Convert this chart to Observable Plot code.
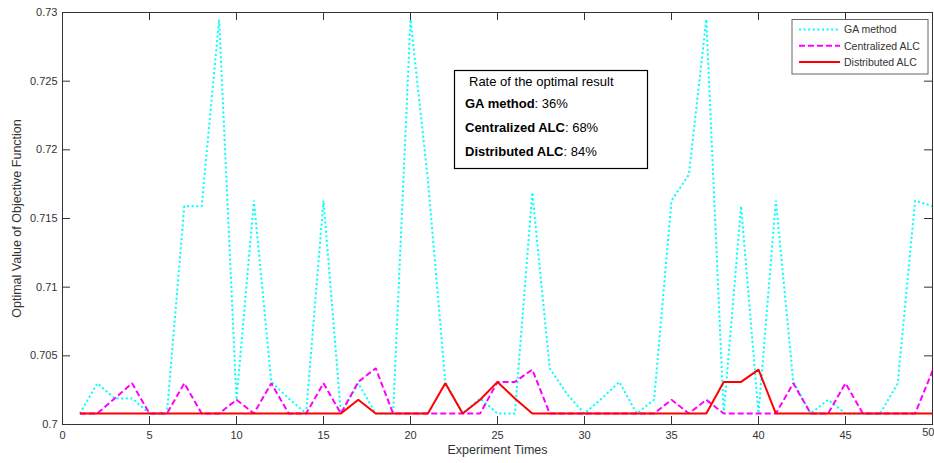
<!DOCTYPE html>
<html>
<head>
<meta charset="utf-8">
<script src="https://cdn.jsdelivr.net/npm/d3@7"></script>
<script src="https://cdn.jsdelivr.net/npm/@observablehq/plot@0.6"></script>
<style>
  html, body { margin: 0; padding: 0; background: #fff; }
  #chart svg { display: block; }
</style>
</head>
<body>
<div id="chart"></div>
<script>
// Experiment index (1..50)
const runs = [1, 2, 3, 4, 5, 6, 7, 8, 9, 10, 11, 12, 13, 14, 15, 16, 17, 18, 19, 20,
  21, 22, 23, 24, 25, 26, 27, 28, 29, 30, 31, 32, 33, 34, 35, 36, 37, 38, 39, 40,
  41, 42, 43, 44, 45, 46, 47, 48, 49, 50];

// Optimal value of the objective function found in each experiment
const gaMethod = [
  0.7008, 0.7030, 0.7019, 0.7019, 0.7008, 0.7008, 0.7159, 0.7159, 0.7295, 0.7018,
  0.7163, 0.7031, 0.7019, 0.7008, 0.7163, 0.7008, 0.7030, 0.7008, 0.7008, 0.7295,
  0.7178, 0.7031, 0.7008, 0.7019, 0.7008, 0.7008, 0.7169, 0.7041, 0.7022, 0.7008,
  0.7019, 0.7031, 0.7008, 0.7018, 0.7163, 0.7182, 0.7295, 0.7008, 0.7159, 0.7008,
  0.7163, 0.7031, 0.7008, 0.7018, 0.7008, 0.7008, 0.7008, 0.7030, 0.7163, 0.7159
];
const centralizedALC = [
  0.7008, 0.7008, 0.7019, 0.7030, 0.7008, 0.7008, 0.7030, 0.7008, 0.7008, 0.7018,
  0.7008, 0.7030, 0.7008, 0.7008, 0.7030, 0.7008, 0.7031, 0.7041, 0.7008, 0.7008,
  0.7008, 0.7008, 0.7008, 0.7008, 0.7031, 0.7031, 0.7040, 0.7008, 0.7008, 0.7008,
  0.7008, 0.7008, 0.7008, 0.7008, 0.7018, 0.7008, 0.7018, 0.7008, 0.7008, 0.7008,
  0.7008, 0.7030, 0.7008, 0.7008, 0.7030, 0.7008, 0.7008, 0.7008, 0.7008, 0.7039
];
const distributedALC = [
  0.7008, 0.7008, 0.7008, 0.7008, 0.7008, 0.7008, 0.7008, 0.7008, 0.7008, 0.7008,
  0.7008, 0.7008, 0.7008, 0.7008, 0.7008, 0.7008, 0.7018, 0.7008, 0.7008, 0.7008,
  0.7008, 0.7030, 0.7008, 0.7018, 0.7031, 0.7019, 0.7008, 0.7008, 0.7008, 0.7008,
  0.7008, 0.7008, 0.7008, 0.7008, 0.7008, 0.7008, 0.7008, 0.7031, 0.7031, 0.7040,
  0.7008, 0.7008, 0.7008, 0.7008, 0.7008, 0.7008, 0.7008, 0.7008, 0.7008, 0.7008
];

const seriesNames = ["GA method", "Centralized ALC", "Distributed ALC"];
const optimalRates = ["36%", "68%", "84%"];

const xTicks = [0, 5, 10, 15, 20, 25, 30, 35, 40, 45, 50];
const yTicks = [0.7, 0.705, 0.71, 0.715, 0.72, 0.725, 0.73];
const yTickLabels = ["0.7", "0.705", "0.71", "0.715", "0.72", "0.725", "0.73"];

const FONT = "'Liberation Sans', Arial, Helvetica, sans-serif";
const AXIS = "#333";

// Line styles per series: dotted, dashed, solid
const styles = [
  {stroke: "#00ffff", strokeWidth: 2, strokeDasharray: "2,2.6"},
  {stroke: "#ff00ff", strokeWidth: 2, strokeDasharray: "6,3"},
  {stroke: "#ff0000", strokeWidth: 2}
];
const seriesValues = [gaMethod, centralizedALC, distributedALC];

const table = (values) => runs.map((run, i) => ({run, value: values[i]}));

const lastX = xTicks[xTicks.length - 1];

const chart = Plot.plot({
  width: 934,
  height: 463,
  marginLeft: 62,
  marginRight: 2,
  marginTop: 12,
  marginBottom: 39,
  style: {fontFamily: FONT, background: "#fff", overflow: "visible"},
  x: {domain: [0, 50]},
  y: {domain: [0.7, 0.73]},
  marks: [
    ...seriesValues.map((values, k) =>
      Plot.line(table(values), {x: "run", y: "value", ...styles[k], strokeLinejoin: "miter", strokeLinecap: "butt"})
    ),
    Plot.frame({stroke: AXIS, strokeWidth: 1}),
    // inward ticks on all four sides
    Plot.tickX(xTicks.slice(1, -1), {x: (d) => d, insetTop: 404, stroke: AXIS}),
    Plot.tickX(xTicks.slice(1, -1), {x: (d) => d, insetBottom: 404, stroke: AXIS}),
    Plot.tickY(yTicks.slice(1, -1), {y: (d) => d, insetRight: 862, stroke: AXIS}),
    Plot.tickY(yTicks.slice(1, -1), {y: (d) => d, insetLeft: 862, stroke: AXIS}),
    Plot.axisX({ticks: xTicks.slice(0, -1), tickSize: 0, tickPadding: 7, fontSize: 11, fill: AXIS, label: null}),
    // last x label sits at the right edge, so it is end-anchored to stay inside
    Plot.text([lastX], {x: (d) => d, frameAnchor: "bottom", dy: 11.5, dx: 2, textAnchor: "end",
      fontSize: 11, fill: AXIS, text: (d) => String(d)}),
    Plot.axisY({ticks: yTicks, tickSize: 0, tickPadding: 5, fontSize: 11, fill: AXIS, label: null,
      tickFormat: (d) => yTickLabels[yTicks.indexOf(d)]}),
    Plot.text(["Experiment Times"], {frameAnchor: "bottom", dy: 29, fontSize: 12.5, fill: AXIS,
      textAnchor: "middle", text: (d) => d}),
    Plot.text(["Optimal Value of Objective Function"], {frameAnchor: "left", dx: -46, rotate: -90,
      textAnchor: "middle", fontSize: 12.5, fill: AXIS, text: (d) => d})
  ]
});

document.getElementById("chart").appendChild(chart);

const svg = d3.select(chart);

// Legend (top right, inside the axes)
const legend = svg.append("g")
  .attr("font-family", FONT).attr("font-size", 10.5).attr("fill", AXIS).attr("text-anchor", "start");
legend.append("rect")
  .attr("x", 792).attr("y", 19.5).attr("width", 136).attr("height", 54.5)
  .attr("fill", "#fff").attr("stroke", "#666").attr("stroke-width", 1);
seriesNames.forEach((name, k) => {
  const cy = 29.5 + k * 16.2;
  legend.append("line")
    .attr("x1", 799).attr("x2", 840).attr("y1", cy).attr("y2", cy)
    .attr("stroke", styles[k].stroke).attr("stroke-width", styles[k].strokeWidth)
    .attr("stroke-dasharray", styles[k].strokeDasharray || null);
  legend.append("text").attr("x", 844).attr("y", cy + 3.8).text(name);
});

// Annotation box with optimal-result rates
const note = svg.append("g")
  .attr("font-family", FONT).attr("font-size", 13).attr("fill", "#000").attr("text-anchor", "start");
note.append("rect")
  .attr("x", 454.5).attr("y", 70.5).attr("width", 193).attr("height", 98)
  .attr("fill", "#fff").attr("stroke", "#000").attr("stroke-width", 1.2);
note.append("text").attr("x", 469).attr("y", 85.5).text("Rate of the optimal result");
seriesNames.forEach((name, k) => {
  const t = note.append("text").attr("x", 465).attr("y", 108 + k * 24);
  t.append("tspan").attr("font-weight", "bold").text(name);
  t.append("tspan").text(": " + optimalRates[k]);
});
</script>
</body>
</html>
